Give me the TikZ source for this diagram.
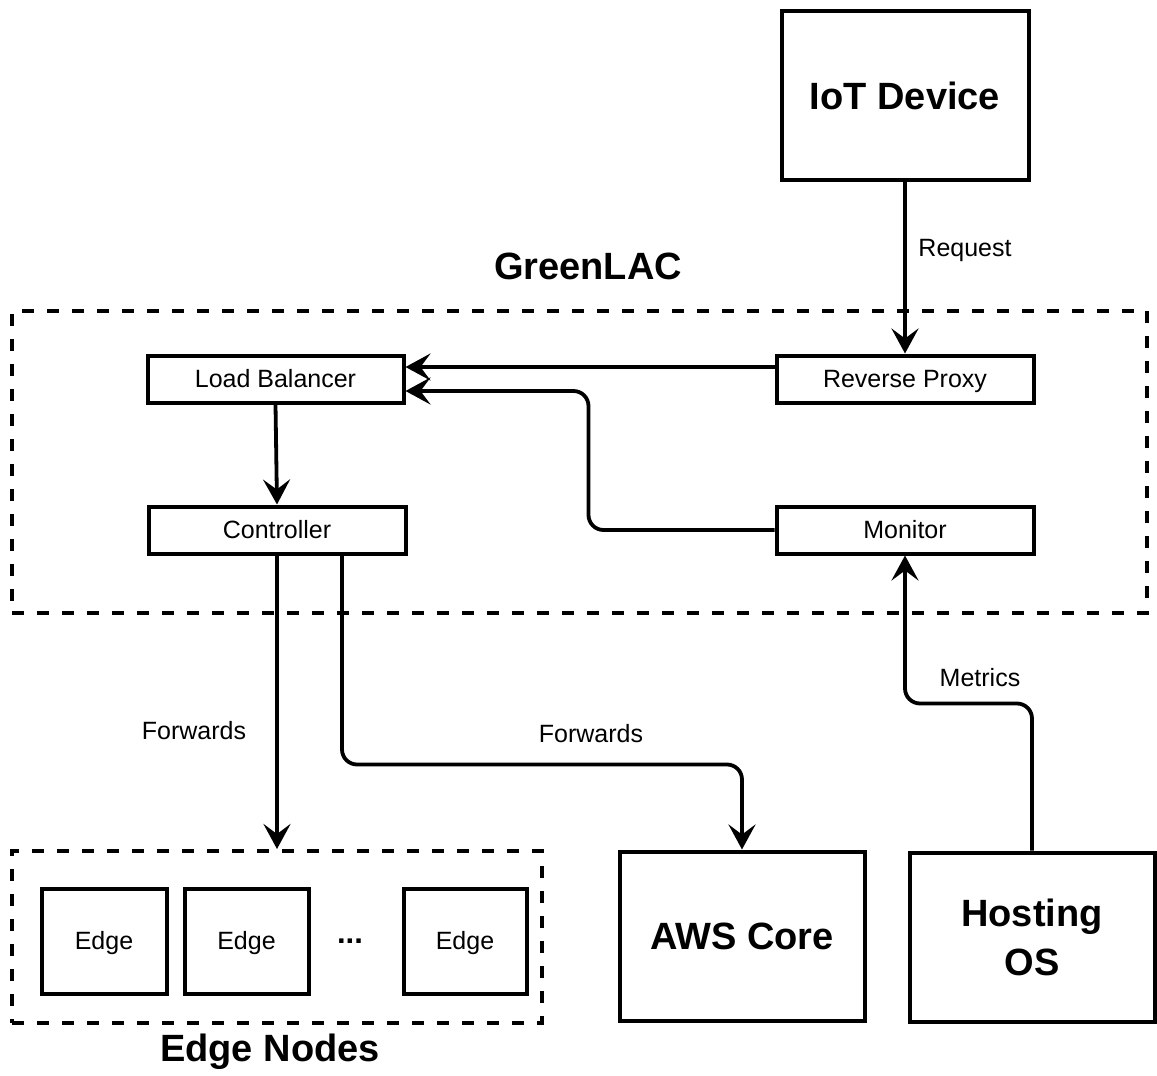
\documentclass[tikz,border=0pt]{standalone}
\usepackage{fontspec}
\setmainfont{Liberation Sans}
\usetikzlibrary{arrows.meta}

\tikzset{
  box/.style={draw, line width=4pt, inner sep=0pt, fill=white,
              font=\fontsize{25}{30}\selectfont, text depth=0pt, text height=17pt},
  bigbox/.style={draw, line width=4pt, inner sep=0pt, fill=white,
                 font=\bfseries\fontsize{38}{49}\selectfont, align=center},
  group/.style={draw, line width=4pt, dash pattern=on 12pt off 13pt, inner sep=0pt},
  arr/.style={line width=3.8pt, -{Stealth[length=25pt, width=27pt, inset=10pt]}},
  lbl/.style={font=\fontsize{25}{30}\selectfont},
  title/.style={font=\bfseries\fontsize{38}{47}\selectfont},
}

\begin{document}
\begin{tikzpicture}[x=1pt, y=-1pt]
  \useasboundingbox[fill=white] (0,0) rectangle (1157,1076);

  % GreenLAC boundary and its content
  \node[group, minimum width=1135pt, minimum height=302pt] (glac) at (579.5,462) {};
  \node[title] (glactitle) at (588,266) {GreenLAC};

  \node[box, minimum width=256pt, minimum height=47pt] (lb)   at (275.5,379) {Load Balancer};
  \node[box, minimum width=257pt, minimum height=47pt] (rp)   at (905,379)   {Reverse Proxy};
  \node[box, minimum width=257pt, minimum height=47pt] (ctrl) at (277,530)   {Controller};
  \node[box, minimum width=257pt, minimum height=47pt] (mon)  at (905,530)   {Monitor};

  % outside components
  \node[bigbox, minimum width=247pt, minimum height=169pt] (iot)  at (905,95.5) {IoT Device};
  \node[bigbox, minimum width=245pt, minimum height=169pt] (aws)  at (742,936)  {AWS Core};
  \node[bigbox, minimum width=245pt, minimum height=169pt] (host) at (1032,937) {Hosting\\OS};

  % edge node group
  \node[group, minimum width=530pt, minimum height=172pt] (edges) at (277,937) {};
  \node[title] (edgestitle) at (270,1052) {Edge Nodes};
  \node[box, minimum width=125pt, minimum height=105pt] (e1) at (104,941)   {Edge};
  \node[box, minimum width=124pt, minimum height=105pt] (e2) at (246.5,941) {Edge};
  \node[box, minimum width=123pt, minimum height=105pt] (e3) at (465,941)   {Edge};
  \node[anchor=base, font=\bfseries\fontsize{31}{36}\selectfont] (dots) at (350,943) {...};

  % connectors
  \draw[arr] (iot.south) -- (rp.north);
  \node[lbl] (req) at (965,250) {Request};

  \draw[arr] ([yshift=12pt]rp.west) -- ([yshift=12pt]lb.east);
  \draw[arr, rounded corners=15pt] (mon.west) -- ++(-186,0) |- ([yshift=-12pt]lb.east);

  \draw[arr] (lb.south) -- (ctrl.north);

  \draw[arr] (ctrl.south) -- (edges.north);
  \node[lbl] (fwd1) at (194,731) {Forwards};

  \draw[arr, rounded corners=15pt] ([xshift=65pt]ctrl.south) -- ++(0,209) -| (aws.north);
  \node[lbl] (fwd2) at (591,734) {Forwards};

  \draw[arr, rounded corners=15pt] (host.north) -- ++(0,-147) -| (mon.south);
  \node[lbl] (met) at (980,678) {Metrics};
\end{tikzpicture}
\end{document}
